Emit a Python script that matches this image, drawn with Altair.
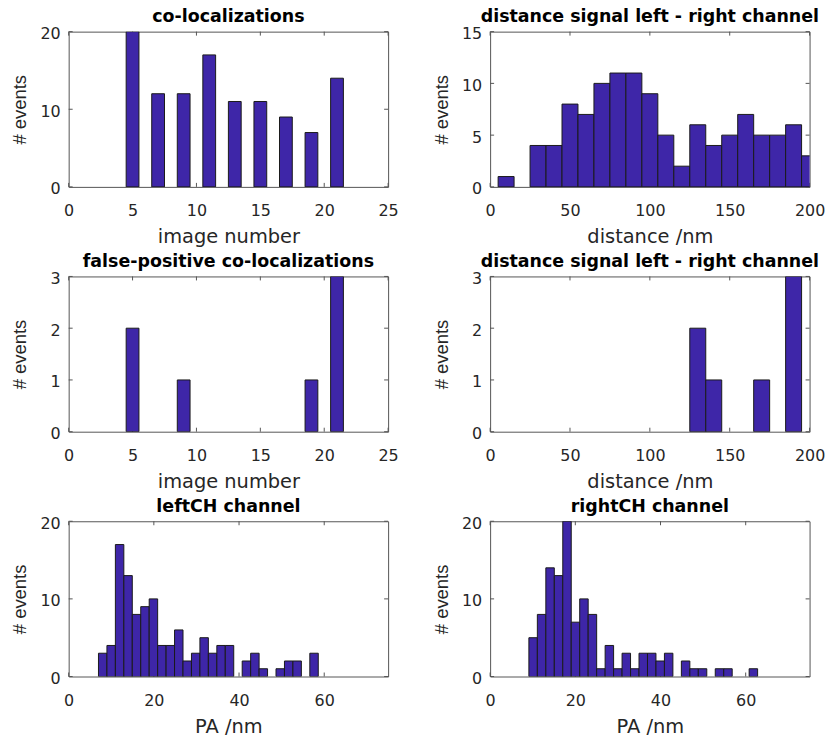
import altair as alt
import numpy as np
import pandas as pd

# ---------------- data ----------------
# co-localizations per image number
img_centers = [5, 7, 9, 11, 13, 15, 17, 19, 21]
img_counts = [20, 12, 12, 17, 11, 11, 9, 7, 14]

# distance signal left - right channel (bins of 10 nm)
dist_centers = [10, 20, 30, 40, 50, 60, 70, 80, 90, 100,
                110, 120, 130, 140, 150, 160, 170, 180, 190, 200]
dist_counts = [1, 0, 4, 4, 8, 7, 10, 11, 11, 9,
               5, 2, 6, 4, 5, 7, 5, 5, 6, 3]

# false-positive co-localizations
fp_img_centers = [5, 9, 19, 21]
fp_img_counts = [2, 1, 1, 3]

# false-positive distances
fp_dist_centers = [130, 140, 170, 190]
fp_dist_counts = [2, 1, 1, 3]

# leftCH channel PA histogram
left_pa_counts = [3, 4, 17, 13, 8, 9, 10, 4, 4, 6, 2, 3, 5, 3, 4, 4, 0,
                  2, 3, 1, 0, 1, 2, 2, 0, 3]
left_pa_range = (7.0, 58.6)

# rightCH channel PA histogram
right_pa_counts = [5, 8, 14, 13, 20, 7, 10, 8, 1, 4, 1, 3, 1, 3, 3, 2, 3,
                   0, 2, 1, 1, 0, 1, 1, 0, 0, 1]
right_pa_range = (9.1, 62.8)

img_xticks = [0, 5, 10, 15, 20, 25]
dist_xticks = [0, 50, 100, 150, 200]
pa_xticks = [0, 20, 40, 60]

# ---------------- style ----------------
BAR = "#3E26A8"
EDGE = "#1a1a1a"
AX = "#555555"
TXT = "#262626"
W, H = 321, 156
TICK = 4


def centered(centers, counts, width):
    return pd.DataFrame({
        "x0": [c - width / 2 for c in centers],
        "x1": [c + width / 2 for c in centers],
        "count": counts,
    })


def binned(counts, rng):
    edges = np.linspace(rng[0], rng[1], len(counts) + 1)
    return pd.DataFrame({"x0": edges[:-1], "x1": edges[1:], "count": counts})


def panel(df, xdom, xticks, ydom, yticks, title, xtitle):
    xscale = alt.Scale(domain=xdom, nice=False, zero=False)
    yscale = alt.Scale(domain=ydom, nice=False, zero=False)
    xaxis = alt.Axis(values=xticks, title=xtitle, ticks=False, domain=False,
                     grid=False, labelFlush=False, labelOverlap=False,
                     labelPadding=16, labelFont="DejaVu Sans", labelFontSize=16,
                     labelColor=TXT, titleFont="DejaVu Sans", titleFontSize=19.5,
                     titleFontWeight="normal", titleColor=TXT, titlePadding=9)
    yaxis = alt.Axis(values=yticks, title="# events", ticks=False, domain=False,
                     grid=False, labelOverlap=False, labelPadding=8.5,
                     labelOffset=2,
                     labelFont="DejaVu Sans", labelFontSize=16, labelColor=TXT,
                     titleFont="Liberation Sans", titleFontSize=18.5,
                     titleFontWeight="normal", titleColor=TXT,
                     titleAngle=270, titleAlign="center",
                     titleBaseline="alphabetic", titleX=-43, titleY=H / 2)
    X = alt.X("x0:Q", scale=xscale, axis=xaxis)
    Y = alt.Y("count:Q", scale=yscale, axis=yaxis)

    xt = pd.DataFrame({"x0": xticks})
    yt = pd.DataFrame({"count": yticks})
    rule = dict(color=AX, strokeWidth=1)
    t1 = alt.Chart(xt).mark_rule(**rule).encode(x=X, y=alt.value(H), y2=alt.value(H - TICK))
    t2 = alt.Chart(xt).mark_rule(**rule).encode(x=X, y=alt.value(0), y2=alt.value(TICK))
    t3 = alt.Chart(yt).mark_rule(**rule).encode(y=Y, x=alt.value(0), x2=alt.value(TICK))
    t4 = alt.Chart(yt).mark_rule(**rule).encode(y=Y, x=alt.value(W), x2=alt.value(W - TICK))
    bars = alt.Chart(df).transform_filter("datum.count > 0").mark_bar(
        color=BAR, stroke=EDGE, strokeWidth=1, clip=True
    ).encode(x=X, x2="x1:Q", y=Y, y2=alt.datum(0))
    return alt.layer(t1, t2, t3, t4, bars).properties(
        width=W, height=H,
        title=alt.TitleParams(text=title, font="DejaVu Sans", fontSize=17.5,
                              fontWeight="bold", color="black", offset=-14,
                              baseline="alphabetic", frame="group", anchor="middle"),
    )


p1 = panel(centered(img_centers, img_counts, 1), [0, 25], img_xticks, [0, 20], [0, 10, 20],
           "co-localizations", "image number")
p2 = panel(centered(dist_centers, dist_counts, 10), [0, 200], dist_xticks, [0, 15], [0, 5, 10, 15],
           "distance signal left - right channel", "distance /nm")
p3 = panel(centered(fp_img_centers, fp_img_counts, 1), [0, 25], img_xticks, [0, 3], [0, 1, 2, 3],
           "false-positive co-localizations", "image number")
p4 = panel(centered(fp_dist_centers, fp_dist_counts, 10), [0, 200], dist_xticks, [0, 3], [0, 1, 2, 3],
           "distance signal left - right channel", "distance /nm")
p5 = panel(binned(left_pa_counts, left_pa_range), [0, 75], pa_xticks, [0, 20], [0, 10, 20],
           "leftCH channel", "PA /nm")
p6 = panel(binned(right_pa_counts, right_pa_range), [0, 75], pa_xticks, [0, 20], [0, 10, 20],
           "rightCH channel", "PA /nm")

chart = alt.ConcatChart(
    concat=[p1, p2, p3, p4, p5, p6], columns=2,
    spacing={"row": 90, "column": 102.5}, bounds="flush",
).properties(
    padding={"left": 10, "top": 6, "right": 0, "bottom": 0},
    background="white",
).configure_view(stroke=AX, strokeWidth=1)

chart.save("out.html", embed_options={"renderer": "svg", "actions": False})
